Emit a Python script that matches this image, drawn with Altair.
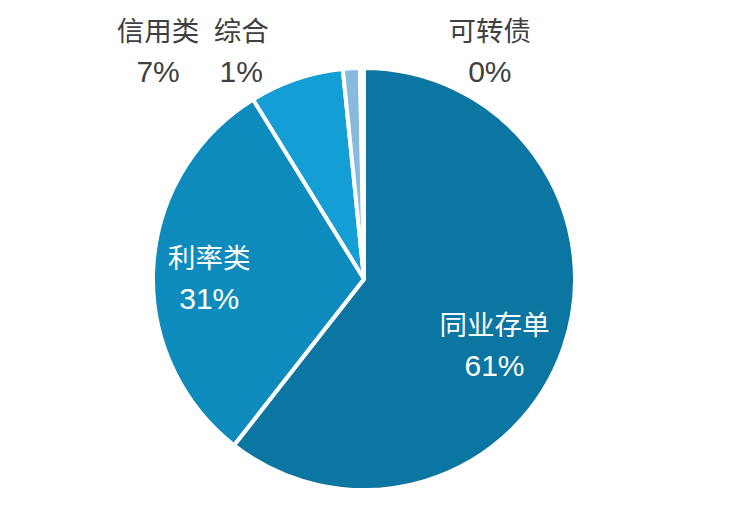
import altair as alt
import pandas as pd

categories = ["同业存单", "利率类", "信用类", "综合", "可转债"]
shares = [60.5, 30.6, 7.2, 1.3, 0.3]
colors = ["#0B76A1", "#0E8BBD", "#139ED5", "#88BADF", "#FFFFFF"]

df = pd.DataFrame({"name": categories, "value": shares, "order": list(range(len(categories)))})

FONT = "Liberation Sans, Noto Sans CJK SC, sans-serif"
CX, CY = 356, 271
R = 211

base = alt.Chart(df).transform_joinaggregate(
    total="sum(value)"
).transform_window(
    cum="sum(value)", sort=[alt.SortField("order")], frame=[None, 0]
).transform_calculate(
    mid="(datum.cum - datum.value / 2) / datum.total",
    pct="format(datum.value / datum.total, '.0%')",
)

arcs = alt.Chart(df).mark_arc(outerRadius=R, stroke="white", strokeWidth=4).encode(
    theta=alt.Theta("value:Q", stack=True),
    order=alt.Order("order:Q"),
    color=alt.Color("name:N", scale=alt.Scale(domain=categories, range=colors), legend=None),
    x=alt.value(CX),
    y=alt.value(CY),
)


def text_layer(name, field, size, radius, dx, dy, color):
    return base.transform_filter(alt.datum.name == name).mark_text(
        radius=radius, dx=dx, dy=dy, fontSize=size, font=FONT, color=color,
        align="center", baseline="middle",
    ).encode(
        theta=alt.Theta("mid:Q", scale=alt.Scale(domain=[0, 1], range=[0, 6.283185307179586])),
        text=f"{field}:N",
        x=alt.value(CX),
        y=alt.value(CY),
    )


def label_layers(name, radius, dx, dy, color):
    return [
        text_layer(name, "name", 27.5, radius, dx, dy, color),
        text_layer(name, "pct", 30, radius, dx, dy + 40, color),
    ]


layers = [arcs]
layers += label_layers("同业存单", 138, 0, 3, "white")
layers += label_layers("利率类", 155, 0, -10, "white")
layers += label_layers("信用类", 230, -132, -28, "#404040")
layers += label_layers("综合", 230, -109, -16, "#404040")
layers += label_layers("可转债", 230, 128, -16, "#404040")

chart = alt.layer(*layers).resolve_scale(theta="independent").properties(
    width=727, height=500, padding=0
).configure_view(stroke=None)

chart.save("out.html", embed_options={"renderer": "svg", "actions": False})
